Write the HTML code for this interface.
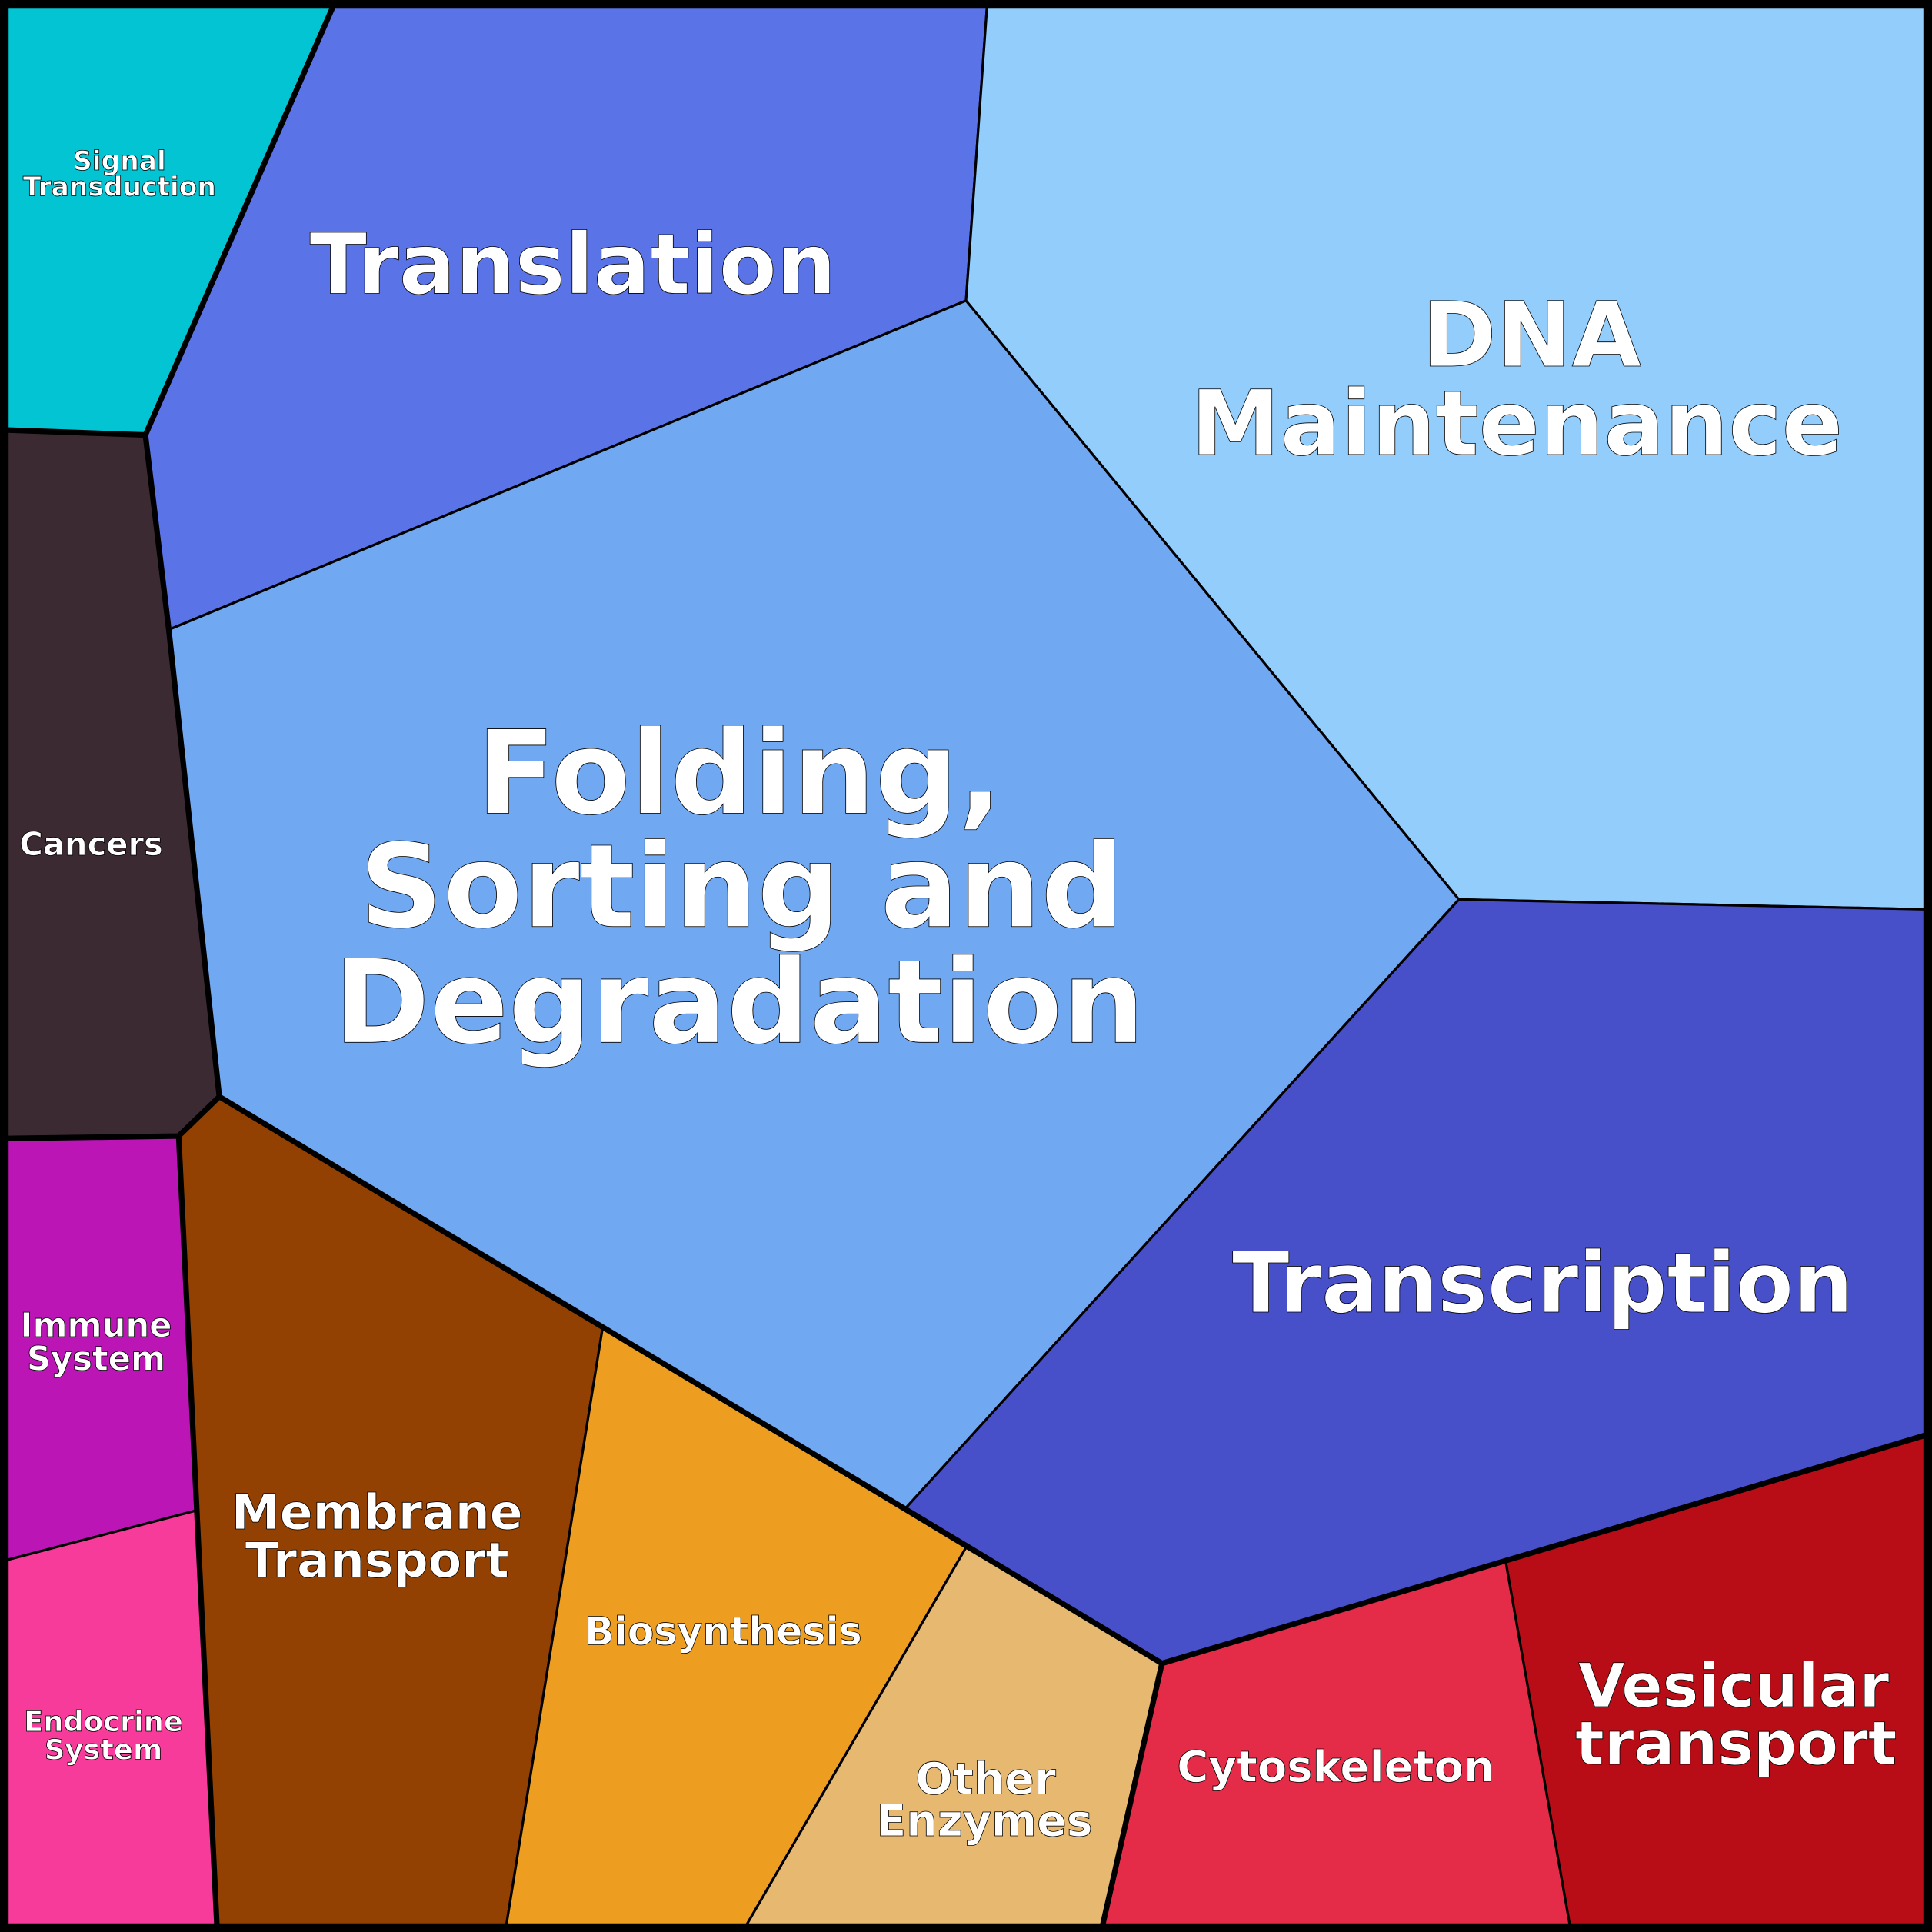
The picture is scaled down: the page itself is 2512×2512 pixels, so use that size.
<!DOCTYPE html>
<html><head><meta charset="utf-8"><style>
html,body{margin:0;padding:0;background:#000;}
svg{display:block;}
text{font-family:"DejaVu Sans","Liberation Sans",sans-serif;font-weight:bold;fill:#fff;stroke:#000;stroke-width:0.5;text-anchor:middle;}
</style></head><body>
<svg width="2512" height="2512" viewBox="0 0 1568 1568" xmlns="http://www.w3.org/2000/svg">
<rect x="0" y="0" width="1568" height="1568" fill="#000"/>
<g stroke="#000" stroke-width="2" stroke-linejoin="round">
<polygon fill="#03c4d2" points="6,6 270,6 118,353 6,349"/>
<polygon fill="#5a74e8" points="270,6 801,6 784,244 137,511 118,353"/>
<polygon fill="#92cdfc" points="801,6 1562,6 1562,738 1184,730 784,244"/>
<polygon fill="#71a8f2" points="784,244 1184,730 735,1224 489,1078 178,890 137,511"/>
<polygon fill="#3c2a33" points="6,349 118,353 137,511 178,890 145,922 6,924"/>
<polygon fill="#4750c8" points="1184,730 1562,738 1562,1165 1222,1267 943,1350 784,1256 735,1224"/>
<polygon fill="#bb16b5" points="6,924 145,922 159,1226 6,1266"/>
<polygon fill="#f63b9b" points="6,1266 159,1226 176,1562 6,1562"/>
<polygon fill="#934003" points="145,922 178,890 489,1078 411,1562 176,1562"/>
<polygon fill="#ed9e20" points="489,1078 784,1256 606,1562 411,1562"/>
<polygon fill="#e6b870" points="784,1256 943,1350 895,1562 606,1562"/>
<polygon fill="#e42c48" points="943,1350 1222,1267 1274,1562 895,1562"/>
<polygon fill="#b80d16" points="1222,1267 1562,1165 1562,1562 1274,1562"/>
</g>
<g stroke="#000" stroke-width="4.5" fill="none" stroke-linejoin="round">
<polyline points="270,6 118,353 6,349"/>
<polyline points="118,353 137,511 178,890 145,922 6,924"/>
<polyline points="145,922 176,1562"/>
<polyline points="178,890 943,1350 1562,1165"/>
<polyline points="943,1350 895,1562"/>
</g>
<rect x="3" y="3" width="1562" height="1562" fill="none" stroke="#000" stroke-width="6"/>
<text x="97" y="138" font-size="21.5">Signal</text>
<text x="97" y="159" font-size="21.5">Transduction</text>
<text x="465" y="238" font-size="68">Translation</text>
<text x="1243" y="297" font-size="73">DNA</text>
<text x="1231" y="369" font-size="73">Maintenance</text>
<text x="600" y="660" font-size="94">Folding,</text>
<text x="602" y="752" font-size="94">Sorting and</text>
<text x="600" y="846" font-size="94">Degradation</text>
<text x="74" y="694" font-size="26">Cancers</text>
<text x="1252" y="1065" font-size="68">Transcription</text>
<text x="78" y="1085" font-size="27">Immune</text>
<text x="78" y="1112" font-size="27">System</text>
<text x="84" y="1405" font-size="23">Endocrine</text>
<text x="84" y="1428" font-size="23">System</text>
<text x="306" y="1241" font-size="39.5">Membrane</text>
<text x="306" y="1280" font-size="39.5">Transport</text>
<text x="587" y="1335" font-size="31.5">Biosynthesis</text>
<text x="800" y="1456" font-size="35.5">Other</text>
<text x="799" y="1490" font-size="35.5">Enzymes</text>
<text x="1084" y="1446" font-size="35">Cytoskeleton</text>
<text x="1407" y="1385" font-size="49">Vesicular</text>
<text x="1409" y="1432" font-size="49">transport</text>
</svg>
</body></html>
